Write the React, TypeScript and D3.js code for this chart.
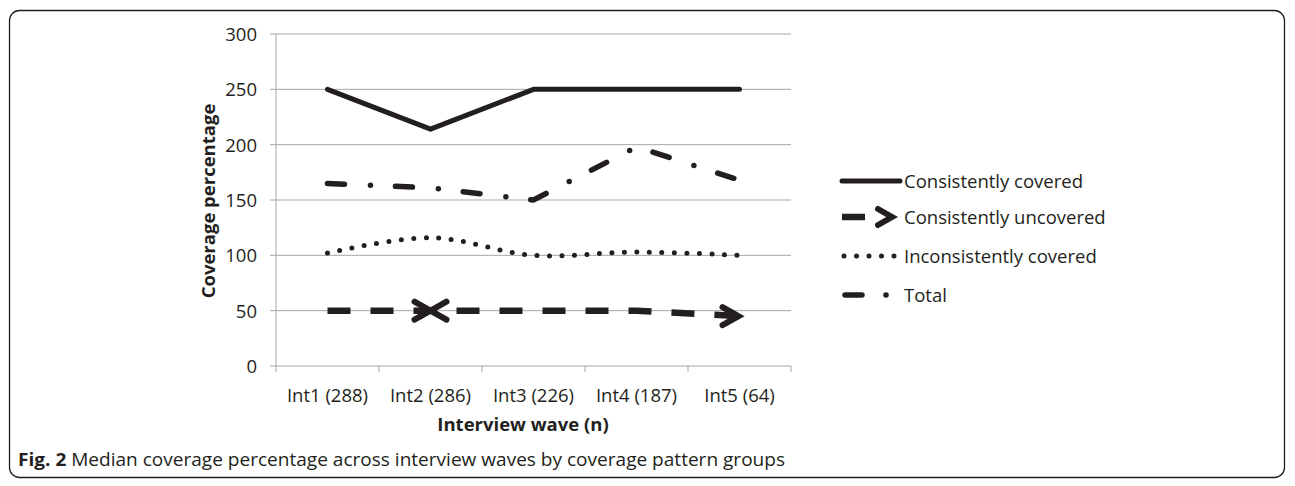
import React from "react";
import * as d3 from "d3";

const categories = ["Int1 (288)", "Int2 (286)", "Int3 (226)", "Int4 (187)", "Int5 (64)"];
const consistentlyCovered = [250, 214, 250, 250, 250];
const consistentlyUncovered = [50, 50, 50, 50, 45];
const inconsistentlyCovered = [102, 116, 100, 103, 100];
const total = [165, 161, 150, 198, 168];
const yTicks = [0, 50, 100, 150, 200, 250, 300];
const legendLabels = ["Consistently covered", "Consistently uncovered", "Inconsistently covered", "Total"];

const W = 1295;
const H = 486;
const INK = "#231f20";
const GRID = "#a6a6a6";
const FONT = "'Open Sans', sans-serif";

export default function App() {
  const x = d3.scaleBand<string>().domain(categories).range([276, 791]);
  const y = d3.scaleLinear().domain([0, 300]).range([366, 34]);
  const cx = (i: number) => (x(categories[i]) as number) + x.bandwidth() / 2;

  const line = d3
    .line<number>()
    .x((_, i) => cx(i))
    .y((d) => y(d));
  const smooth = d3
    .line<number>()
    .x((_, i) => cx(i))
    .y((d) => y(d))
    .curve(d3.curveCatmullRom.alpha(0.5));

  const arrow = (tx: number, ty: number, dir: number, len = 16, half = 9) =>
    `M${tx - dir * len},${ty - half}L${tx},${ty}L${tx - dir * len},${ty + half}`;

  const boundaries = [...categories.map((c) => x(c) as number), 791];

  const legendX0 = 842;
  const legendX1 = 900;
  const legendY = [181, 217, 256, 295];

  return (
    <svg width={W} height={H} style={{ position: "absolute", left: 0, top: 0 }}>
      <rect x={0} y={0} width={W} height={H} fill="#fff" />
      <rect x={9.5} y={10.5} width={1275} height={467} rx={10} ry={10} fill="none" stroke={INK} strokeWidth={1.3} />

      {/* grid */}
      {yTicks.map((t) => (
        <line key={t} x1={270} x2={791} y1={y(t)} y2={y(t)} stroke={GRID} strokeWidth={1} />
      ))}
      <line x1={276} x2={276} y1={y(300)} y2={y(0)} stroke={GRID} strokeWidth={1} />
      {boundaries.map((b, i) => (
        <line key={i} x1={b} x2={b} y1={y(0)} y2={y(0) + 6} stroke={GRID} strokeWidth={1} />
      ))}

      {/* y tick labels */}
      {yTicks.map((t) => (
        <text key={t} x={257} y={y(t) + 7} textAnchor="end" fontFamily={FONT} fontSize={18.5} fill={INK}>
          {t}
        </text>
      ))}
      {/* x tick labels */}
      {categories.map((c, i) => (
        <text key={c} x={cx(i)} y={402} textAnchor="middle" fontFamily={FONT} fontSize={18.5} fill={INK}>
          {c}
        </text>
      ))}
      <text x={523} y={431} textAnchor="middle" fontFamily={FONT} fontSize={18.5} fontWeight="bold" fill={INK}>
        Interview wave (n)
      </text>
      <text
        transform={`translate(215,201) rotate(-90)`}
        textAnchor="middle"
        fontFamily={FONT}
        fontSize={18.5}
        fontWeight="bold"
        fill={INK}
      >
        Coverage percentage
      </text>

      {/* series */}
      <path d={line(consistentlyCovered) || ""} fill="none" stroke={INK} strokeWidth={5} strokeLinejoin="round" strokeLinecap="round" />
      <path d={line(total) || ""} fill="none" stroke={INK} strokeWidth={5.5} strokeLinecap="round" strokeDasharray="17 26 0 25" />
      <path d={smooth(inconsistentlyCovered) || ""} fill="none" stroke={INK} strokeWidth={5} strokeLinecap="round" strokeDasharray="0 12.5" />
      <path d={line(consistentlyUncovered) || ""} fill="none" stroke={INK} strokeWidth={6.5} strokeDasharray="23 20" />
      <path d={arrow(cx(1), y(consistentlyUncovered[1]), 1)} fill="none" stroke={INK} strokeWidth={6} strokeLinecap="round" strokeLinejoin="miter" />
      <path d={arrow(cx(1), y(consistentlyUncovered[1]), -1)} fill="none" stroke={INK} strokeWidth={6} strokeLinecap="round" strokeLinejoin="miter" />
      <path d={arrow(cx(4) - 1, y(consistentlyUncovered[4]), 1)} fill="none" stroke={INK} strokeWidth={6} strokeLinecap="round" strokeLinejoin="miter" />

      {/* legend */}
      <line x1={legendX0} x2={legendX1} y1={legendY[0]} y2={legendY[0]} stroke={INK} strokeWidth={5} strokeLinecap="round" />
      <line x1={legendX0} x2={legendX0 + 23} y1={legendY[1]} y2={legendY[1]} stroke={INK} strokeWidth={6.5} />
      <path d={arrow(892, legendY[1], 1, 14, 8)} fill="none" stroke={INK} strokeWidth={6} strokeLinecap="round" />
      <line x1={legendX0 + 2} x2={legendX1} y1={legendY[2]} y2={legendY[2]} stroke={INK} strokeWidth={5} strokeLinecap="round" strokeDasharray="0 12.5" />
      <line x1={legendX0 + 3} x2={legendX0 + 20} y1={legendY[3]} y2={legendY[3]} stroke={INK} strokeWidth={5.5} strokeLinecap="round" />
      <circle cx={886} cy={legendY[3]} r={2.8} fill={INK} />
      {legendLabels.map((l, i) => (
        <text key={l} x={904} y={legendY[i] + 7} fontFamily={FONT} fontSize={18.5} fill={INK}>
          {l}
        </text>
      ))}

      {/* caption */}
      <text x={18} y={466} fontFamily={FONT} fontSize={18} fill={INK} textLength={767} lengthAdjust="spacingAndGlyphs">
        <tspan fontWeight="bold">Fig. 2</tspan>
        <tspan> Median coverage percentage across interview waves by coverage pattern groups</tspan>
      </text>
    </svg>
  );
}
